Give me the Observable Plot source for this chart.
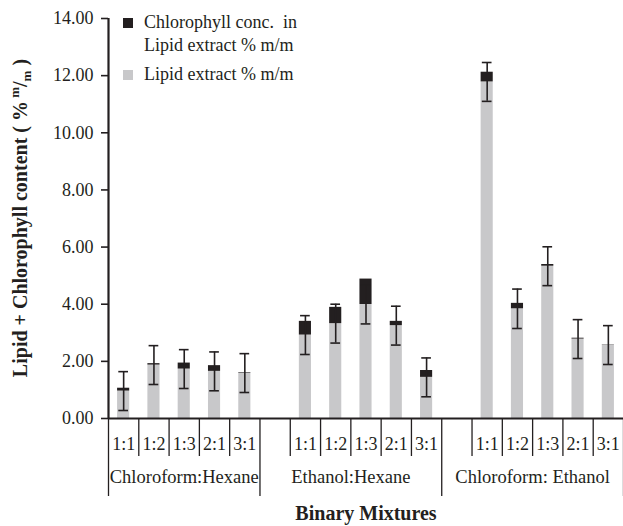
<!DOCTYPE html>
<html>
<head>
<meta charset="utf-8">
<script src="https://cdn.jsdelivr.net/npm/d3@7"></script>
<script src="https://cdn.jsdelivr.net/npm/@observablehq/plot@0.6"></script>
<style>
  html, body { margin: 0; padding: 0; background: #fff; }
  #chart { width: 623px; height: 526px; position: relative; }
</style>
</head>
<body>
<div id="chart"></div>
<script>
// ---- data ----
const groups = ["Chloroform:Hexane", "Ethanol:Hexane", "Chloroform: Ethanol"];
const ratios = ["1:1", "1:2", "1:3", "2:1", "3:1"];
const lipid = [0.96, 1.87, 1.73, 1.65, 1.59,
               2.92, 3.32, 3.99, 3.25, 1.44,
               11.78, 3.84, 5.33, 2.78, 2.57];
const chlorophyll = [0.10, 0.05, 0.21, 0.20, 0.02,
                     0.48, 0.57, 0.89, 0.15, 0.24,
                     0.34, 0.19, 0.06, 0.03, 0.01];
const errors = [0.68, 0.68, 0.68, 0.68, 0.68,
                0.68, 0.68, 0.68, 0.68, 0.68,
                0.68, 0.69, 0.68, 0.68, 0.68];
const yTicks = [0, 2, 4, 6, 8, 10, 12, 14];
const legendItems = [
  {label: ["Chlorophyll conc.  in", "Lipid extract % m/m"], color: "#231f20"},
  {label: ["Lipid extract % m/m"], color: "#c8c8ca"}
];

// ---- table ----
const slotsPerGroup = ratios.length + 1; // one empty slot between groups
const rows = [];
groups.forEach((g, gi) => ratios.forEach((r, ri) => {
  const k = gi * ratios.length + ri;
  rows.push({group: g, ratio: r, slot: gi * slotsPerGroup + ri,
             lipid: lipid[k], chl: chlorophyll[k], err: errors[k]});
}));
const nSlots = groups.length * slotsPerGroup - 1;
const groupEdges = [0, ratios.length, slotsPerGroup + ratios.length, nSlots];
const groupSpans = groups.map((g, gi) => ({group: g, x: (groupEdges[gi] + groupEdges[gi + 1]) / 2}));
const shortTicks = d3.range(1, nSlots).filter(s => !groupEdges.includes(s));

const ink = "#231f20";
const barW = 0.4, capW = 0.16;

const plot = Plot.plot({
  width: 623, height: 526,
  marginLeft: 108, marginRight: 0, marginTop: 18, marginBottom: 108,
  style: {fontFamily: "'Liberation Serif', serif", fontSize: "18px", color: ink, background: "#fff"},
  x: {domain: [0, nSlots], axis: null},
  y: {domain: [0, 14], axis: null},
  marks: [
    // bars
    Plot.rect(rows, {x1: d => d.slot + 0.5 - barW / 2, x2: d => d.slot + 0.5 + barW / 2,
                     y1: 0, y2: "lipid", fill: "#c8c8ca"}),
    Plot.rect(rows, {x1: d => d.slot + 0.5 - barW / 2, x2: d => d.slot + 0.5 + barW / 2,
                     y1: "lipid", y2: d => d.lipid + d.chl, fill: ink}),
    // error bars
    Plot.ruleX(rows, {x: d => d.slot + 0.5, y1: d => d.lipid - d.err, y2: d => d.lipid + d.err,
                      stroke: ink, strokeWidth: 1.6}),
    Plot.ruleY(rows, {y: d => d.lipid + d.err, x1: d => d.slot + 0.5 - capW, x2: d => d.slot + 0.5 + capW,
                      stroke: ink, strokeWidth: 1.6}),
    Plot.ruleY(rows, {y: d => d.lipid - d.err, x1: d => d.slot + 0.5 - capW, x2: d => d.slot + 0.5 + capW,
                      stroke: ink, strokeWidth: 1.6}),
    // y axis
    Plot.axisY({ticks: yTicks, tickFormat: d => d.toFixed(2), tickSize: 7, tickPadding: 8,
                stroke: ink, strokeWidth: 1.6, fontSize: 18, label: null}),
    Plot.ruleX([0], {y1: 0, y2: 14, stroke: ink, strokeWidth: 2.2}),
    // x axis
    Plot.ruleY([0], {stroke: ink, strokeWidth: 2.2}),
    Plot.axisX({ticks: shortTicks, tickSize: 38, tickFormat: () => "", stroke: ink, strokeWidth: 1.3, label: null}),
    Plot.axisX({ticks: groupEdges, tickSize: 78, tickFormat: () => "", stroke: ink, strokeWidth: 1.3, label: null}),
    Plot.text(rows, {x: d => d.slot + 0.5, text: "ratio", frameAnchor: "bottom", lineAnchor: "bottom",
                     dy: 31, fill: ink, fontSize: 18}),
    Plot.text(groupSpans, {x: "x", text: "group", frameAnchor: "bottom", lineAnchor: "bottom",
                           dy: 64, fill: ink, fontSize: 18.5}),
    Plot.text(["Binary Mixtures"], {frameAnchor: "bottom", lineAnchor: "bottom", dy: 101,
                                    fill: ink, fontSize: 20, fontWeight: "bold"})
  ]
});
document.getElementById("chart").appendChild(plot);

// y-axis title with superscript / subscript
const svg = d3.select(plot);
const yl = svg.append("text")
  .attr("transform", "translate(27,218) rotate(-90)")
  .attr("text-anchor", "middle")
  .attr("font-family", "'Liberation Serif', serif")
  .attr("font-size", 20).attr("font-weight", "bold").attr("fill", ink);
yl.append("tspan").text("Lipid + Chlorophyll content ( %");
yl.append("tspan").attr("font-size", 13).attr("dy", -8).text(" m");
yl.append("tspan").attr("dy", 8).text("/");
yl.append("tspan").attr("font-size", 13).attr("dy", 4).text("m");
yl.append("tspan").attr("dy", -4).text(" )");

// legend
const lg = svg.append("g").attr("font-family", "'Liberation Serif', serif").attr("font-size", 18)
  .attr("fill", ink).attr("text-anchor", "start");
let ly = 18;
legendItems.forEach(item => {
  lg.append("rect").attr("x", 123).attr("y", ly).attr("width", 10).attr("height", 10).attr("fill", item.color);
  item.label.forEach((line, li) => {
    lg.append("text").attr("x", 144).attr("y", ly + 10 + li * 22.5).text(line);
  });
  ly += 52;
});
</script>
</body>
</html>
